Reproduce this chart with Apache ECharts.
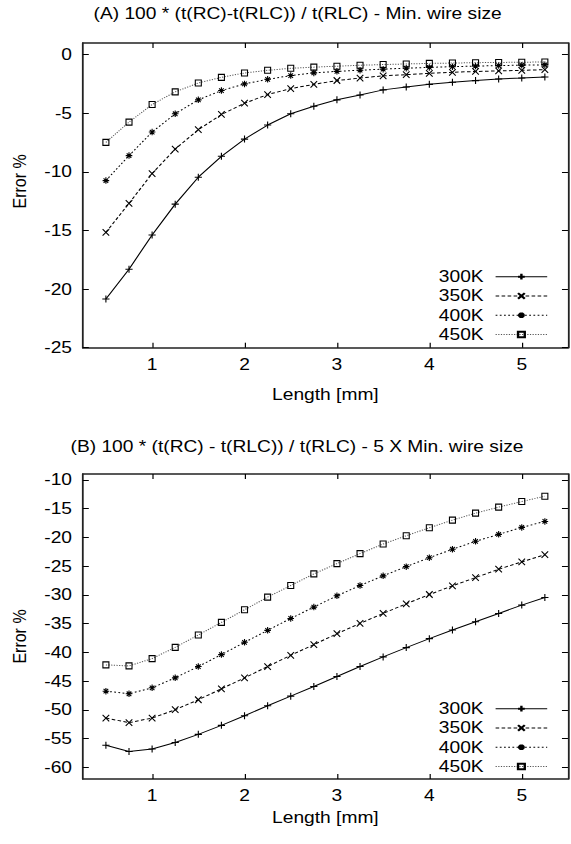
<!DOCTYPE html>
<html>
<head>
<meta charset="utf-8">
<script src="https://cdn.jsdelivr.net/npm/echarts@6/dist/echarts.min.js"></script>
<style>
  html, body { margin: 0; padding: 0; background: #fff; overflow: hidden; }
  #wrap { width: 571px; height: 844px; overflow: hidden; }
  /* gnuplot-style output is horizontally stretched: draw narrower, then widen */
  #chart { width: 476px; height: 844px; transform: scaleX(1.2); transform-origin: 0 0; }
</style>
</head>
<body>
<div id="wrap"><div id="chart"></div></div>
<script>
// Wire length [mm]
const lengths = [0.5, 0.75, 1, 1.25, 1.5, 1.75, 2, 2.25, 2.5, 2.75, 3, 3.25, 3.5, 3.75, 4, 4.25, 4.5, 4.75, 5, 5.25];
const temps = ['300K', '350K', '400K', '450K'];

// (A) error %, minimum wire size
const minWire300 = [-20.85, -18.3, -15.38, -12.75, -10.45, -8.67, -7.2, -6.0, -5.04, -4.39, -3.85, -3.43, -3.0, -2.75, -2.53, -2.35, -2.21, -2.07, -1.99, -1.9];
const minWire350 = [-15.16, -12.69, -10.14, -8.05, -6.4, -5.1, -4.14, -3.4, -2.89, -2.53, -2.2, -1.99, -1.8, -1.7, -1.59, -1.5, -1.43, -1.38, -1.33, -1.28];
const minWire400 = [-10.74, -8.61, -6.6, -5.04, -3.85, -3.06, -2.49, -2.1, -1.78, -1.55, -1.42, -1.32, -1.23, -1.15, -1.08, -1.02, -0.97, -0.93, -0.89, -0.86];
const minWire450 = [-7.48, -5.75, -4.25, -3.17, -2.41, -1.93, -1.56, -1.33, -1.16, -1.06, -0.98, -0.9, -0.84, -0.79, -0.74, -0.71, -0.68, -0.66, -0.64, -0.62];

// (B) error %, 5 X minimum wire size
const wide300 = [-56.14, -57.23, -56.78, -55.67, -54.24, -52.68, -51.0, -49.27, -47.6, -45.93, -44.19, -42.46, -40.78, -39.17, -37.61, -36.11, -34.67, -33.23, -31.78, -30.46];
const wide350 = [-51.41, -52.21, -51.41, -49.96, -48.23, -46.33, -44.42, -42.46, -40.5, -38.65, -36.75, -34.96, -33.23, -31.55, -29.94, -28.44, -27.0, -25.55, -24.28, -23.02];
const wide400 = [-46.74, -47.19, -46.15, -44.42, -42.46, -40.38, -38.25, -36.17, -34.1, -32.13, -30.17, -28.38, -26.7, -25.1, -23.54, -22.08, -20.7, -19.49, -18.28, -17.24];
const wide450 = [-42.17, -42.35, -41.08, -39.12, -36.98, -34.79, -32.59, -30.4, -28.38, -26.36, -24.57, -22.84, -21.17, -19.73, -18.34, -17.01, -15.8, -14.76, -13.78, -12.86];

// Tick labels
const xTicks = [1, 2, 3, 4, 5];
const yTicksA = [-25, -20, -15, -10, -5, 0];
const yTicksB = [-60, -55, -50, -45, -40, -35, -30, -25, -20, -15, -10];

const FONT = 'Liberation Sans, Arial, Helvetica, sans-serif';
const FS = 16;

// gnuplot point types: plus, cross, asterisk, open box
const pointStyles = [
  { symbol: 'path://M0,5L10,5M5,0L5,10', size: [6, 7], dash: 'solid', color: '#000', width: 1 },
  { symbol: 'path://M0,0L10,10M10,0L0,10', size: [5.5, 6.5], dash: [3, 2], color: '#000', width: 1 },
  { symbol: 'path://M0,5L10,5M5,0L5,10M1.5,1.5L8.5,8.5M8.5,1.5L1.5,8.5', size: [5.5, 6.5], dash: [1.5, 2], color: '#000', width: 1 },
  { symbol: 'path://M0,0L10,0L10,10L0,10Z', size: [5, 6], dash: [1, 1.2], color: '#555', width: 1 }
];

function pairs(ys) { return lengths.map((x, i) => [x, ys[i]]); }

function makeSeries(k, ys, xIdx, yIdx) {
  const p = pointStyles[k];
  return {
    name: temps[k], type: 'line', xAxisIndex: xIdx, yAxisIndex: yIdx,
    data: pairs(ys),
    symbol: p.symbol, symbolSize: p.size, showSymbol: true,
    lineStyle: { color: p.color, width: p.width, type: p.dash },
    itemStyle: { color: 'rgba(0,0,0,0)', borderColor: '#000', borderWidth: 1 },
    emphasis: { disabled: true },
    z: 5 + k
  };
}

const frame = { show: true, onZero: false, lineStyle: { color: '#222', width: 1.5 } };
const tickStyle = { show: true, inside: true, length: 5, lineStyle: { color: '#000', width: 1 } };
const labelStyle = { color: '#000', fontFamily: FONT, fontSize: FS };

function xAxes(grid, nameGap) {
  return [
    { type: 'value', gridIndex: grid, position: 'bottom', min: 0.25, max: 5.5,
      name: 'Length [mm]', nameLocation: 'middle', nameGap: nameGap,
      nameTextStyle: { color: '#000', fontFamily: FONT, fontSize: FS },
      axisLine: frame, splitLine: { show: false },
      axisTick: Object.assign({ customValues: xTicks }, tickStyle),
      axisLabel: Object.assign({ customValues: xTicks, margin: 9 }, labelStyle) },
    { type: 'value', gridIndex: grid, position: 'top', min: 0.25, max: 5.5,
      axisLine: frame, splitLine: { show: false },
      axisTick: Object.assign({ customValues: xTicks }, tickStyle),
      axisLabel: { show: false } }
  ];
}

function yAxes(grid, lo, hi, ticks, namePad) {
  return [
    { type: 'value', gridIndex: grid, position: 'left', min: lo, max: hi,
      name: 'Error %', nameLocation: 'middle', nameGap: 45, nameRotate: 90,
      nameTextStyle: { color: '#000', fontFamily: FONT, fontSize: FS, padding: namePad },
      axisLine: frame, splitLine: { show: false },
      axisTick: Object.assign({ customValues: ticks }, tickStyle),
      axisLabel: Object.assign({ customValues: ticks, margin: 9 }, labelStyle) },
    { type: 'value', gridIndex: grid, position: 'right', min: lo, max: hi,
      axisLine: frame, splitLine: { show: false },
      axisTick: Object.assign({ customValues: ticks }, tickStyle),
      axisLabel: { show: false } }
  ];
}

function legendAt(top) {
  return {
    data: temps, orient: 'vertical', right: 14.5, top: top,
    align: 'right', itemWidth: 43, itemHeight: 7, itemGap: 0,
    selectedMode: false,
    lineStyle: { width: 1 },
    textStyle: { color: '#000', fontFamily: FONT, fontSize: FS, lineHeight: 19.3, padding: [0, 5, 0, 0] }
  };
}

const chart = echarts.init(document.getElementById('chart'), null, { renderer: 'svg' });
chart.setOption({
  animation: false,
  backgroundColor: '#fff',
  graphic: [
    { type: 'text', x: 248, y: 14, style: { text: '(A) 100 * (t(RC)-t(RLC)) / t(RLC) - Min. wire size', fill: '#000', font: FS + 'px ' + FONT, textAlign: 'center', textVerticalAlign: 'middle' } },
    { type: 'text', x: 247.5, y: 447, style: { text: '(B) 100 * (t(RC) - t(RLC)) / t(RLC) - 5 X Min. wire size', fill: '#000', font: FS + 'px ' + FONT, textAlign: 'center', textVerticalAlign: 'middle' } }
  ],
  grid: [
    { left: 66.7, width: 406.6, top: 43, height: 304.7 },
    { left: 66.7, width: 406.6, top: 474, height: 305 }
  ],
  xAxis: [...xAxes(0, 39), ...xAxes(1, 31)],
  yAxis: [...yAxes(0, -25, 1, yTicksA, [0, 0, 0, 28]), ...yAxes(1, -62, -9, yTicksB, [0, 20, 0, 0])],
  legend: [legendAt(262), legendAt(694)],
  series: [
    makeSeries(0, minWire300, 0, 0),
    makeSeries(1, minWire350, 0, 0),
    makeSeries(2, minWire400, 0, 0),
    makeSeries(3, minWire450, 0, 0),
    makeSeries(0, wide300, 2, 2),
    makeSeries(1, wide350, 2, 2),
    makeSeries(2, wide400, 2, 2),
    makeSeries(3, wide450, 2, 2)
  ]
});
</script>
</body>
</html>
